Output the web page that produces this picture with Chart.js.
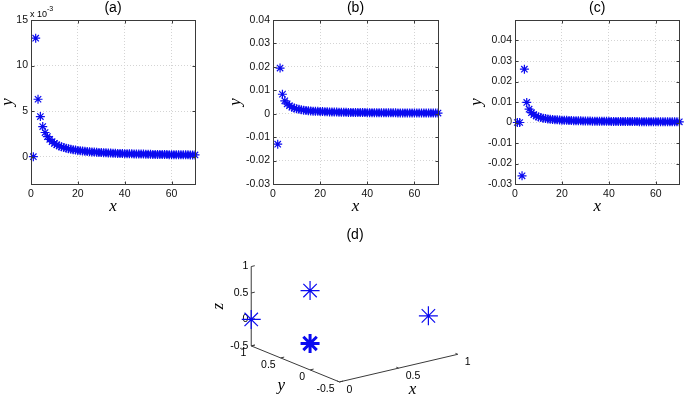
<!DOCTYPE html>
<html>
<head>
<meta charset="utf-8">
<script src="https://cdn.jsdelivr.net/npm/chart.js@4.4.1/dist/chart.umd.min.js"></script>
<style>
  html, body { margin: 0; padding: 0; background: #fff; }
  #wrap { position: relative; width: 685px; height: 405px; overflow: hidden; }
  canvas { position: absolute; }
</style>
</head>
<body>
<div id="wrap">
  <canvas id="ca" width="228" height="222" style="left:0;top:0"></canvas>
  <canvas id="cb" width="228" height="222" style="left:228px;top:0"></canvas>
  <canvas id="cc" width="229" height="222" style="left:456px;top:0"></canvas>
  <canvas id="cd" width="310" height="183" style="left:190px;top:222px"></canvas>
</div>
<script>
/* ── Datos ── */
const X_IDX = [
  1, 2, 3, 4, 5, 6, 7, 8, 9, 10, 11, 12, 13, 14, 15, 16, 17, 18, 19, 20,
  21, 22, 23, 24, 25, 26, 27, 28, 29, 30, 31, 32, 33, 34, 35, 36, 37, 38, 39, 40,
  41, 42, 43, 44, 45, 46, 47, 48, 49, 50, 51, 52, 53, 54, 55, 56, 57, 58, 59, 60,
  61, 62, 63, 64, 65, 66, 67, 68, 69, 70
];

// (a) en unidades de 1e-3
const Y_A = [
  0, 13.0, 6.3, 4.4, 3.3, 2.65, 2.2, 1.9, 1.65, 1.45,
  1.3, 1.18, 1.08, 1.0, 0.93, 0.87, 0.81, 0.76, 0.72, 0.68,
  0.65, 0.62, 0.59, 0.56, 0.54, 0.52, 0.5, 0.48, 0.46, 0.45,
  0.43, 0.42, 0.41, 0.39, 0.38, 0.37, 0.36, 0.35, 0.34, 0.33,
  0.32, 0.32, 0.31, 0.3, 0.29, 0.29, 0.28, 0.28, 0.27, 0.27,
  0.26, 0.25, 0.25, 0.25, 0.24, 0.24, 0.23, 0.23, 0.22, 0.22,
  0.22, 0.21, 0.21, 0.21, 0.2, 0.2, 0.2, 0.19, 0.19, 0.19
];

const Y_B = [
  null, -0.013, 0.0195, 0.0083, 0.0055, 0.0042, 0.0034, 0.0028, 0.0024, 0.0021,
  0.0019, 0.0017, 0.0015, 0.0014, 0.0013, 0.0012, 0.0011, 0.00105, 0.001, 0.00095,
  0.0009, 0.00085, 0.0008, 0.00077, 0.00074, 0.00071, 0.00068, 0.00065, 0.00063, 0.00061,
  0.00059, 0.00057, 0.00055, 0.00054, 0.00052, 0.00051, 0.0005, 0.00048, 0.00047, 0.00046,
  0.00045, 0.00044, 0.00043, 0.00042, 0.00041, 0.0004, 0.00039, 0.00039, 0.00038, 0.00037,
  0.00036, 0.00036, 0.00035, 0.00035, 0.00034, 0.00033, 0.00033, 0.00032, 0.00032, 0.00031,
  0.00031, 0.0003, 0.0003, 0.0003, 0.00029, 0.00029, 0.00028, 0.00028, 0.00028, 0.00027
];

const Y_C = [
  0, 0, -0.026, 0.026, 0.0098, 0.0065, 0.0048, 0.0038, 0.0032, 0.0027,
  0.0024, 0.0021, 0.0019, 0.0017, 0.0016, 0.0015, 0.0014, 0.0013, 0.0012, 0.00115,
  0.0011, 0.00104, 0.001, 0.00095, 0.0009, 0.00087, 0.00083, 0.0008, 0.00077, 0.00074,
  0.00072, 0.0007, 0.00067, 0.00065, 0.00063, 0.00062, 0.0006, 0.00058, 0.00057, 0.00055,
  0.00054, 0.00053, 0.00052, 0.0005, 0.00049, 0.00048, 0.00047, 0.00046, 0.00046, 0.00045,
  0.00044, 0.00043, 0.00042, 0.00042, 0.00041, 0.0004, 0.0004, 0.00039, 0.00038, 0.00038,
  0.00037, 0.00037, 0.00036, 0.00036, 0.00035, 0.00035, 0.00034, 0.00034, 0.00033, 0.00033
];

const TICKS_X  = [0, 20, 40, 60];
const TICKS_YA = [0, 5, 10, 15];
const TICKS_YB = [-0.03, -0.02, -0.01, 0, 0.01, 0.02, 0.03, 0.04];
const TICKS_YC = [-0.03, -0.02, -0.01, 0, 0.01, 0.02, 0.03, 0.04];

// (d) puntos 3D: origen + vértices
const D_X = [0, 1, 0, 0];
const D_Y = [0, 0, 1, 0];
const D_Z = [0, 0, 0, 1];
const D_TICKS_X = [0, 0.5, 1];
const D_TICKS_Y = [-0.5, 0, 0.5, 1];
const D_TICKS_Z = [-0.5, 0, 0.5, 1];

/* ── Estilo ── */
const BLUE = "#0a0af0";
const AXIS = "#3a3a3a";
const SANS = '"Liberation Sans", Arial, sans-serif';
const SERIF = '"Liberation Serif", "Times New Roman", serif';

/* ── Decoración estilo MATLAB: caja, ticks internos, títulos ── */
const decor = {
  id: "decor",
  afterDraw(chart, args, o) {
    const { ctx, chartArea: a, scales } = chart;
    const L = Math.round(a.left) + 0.5, R = Math.round(a.right) + 0.5;
    const T = Math.round(a.top) + 0.5, B = Math.round(a.bottom) + 0.5;
    ctx.save();
    ctx.strokeStyle = AXIS;
    ctx.lineWidth = 1;
    ctx.strokeRect(L, T, R - L, B - T);

    // ticks hacia dentro
    ctx.beginPath();
    scales.x.ticks.forEach(t => {
      const px = Math.round(scales.x.getPixelForValue(t.value)) + 0.5;
      ctx.moveTo(px, B); ctx.lineTo(px, B - 3);
      ctx.moveTo(px, T); ctx.lineTo(px, T + 3);
    });
    scales.y.ticks.forEach(t => {
      const py = Math.round(scales.y.getPixelForValue(t.value)) + 0.5;
      ctx.moveTo(L, py); ctx.lineTo(L + 3, py);
      ctx.moveTo(R, py); ctx.lineTo(R - 3, py);
    });
    ctx.stroke();

    const cx = (a.left + a.right) / 2;
    ctx.fillStyle = "#000";
    ctx.textAlign = "center";
    ctx.textBaseline = "middle";
    ctx.font = "14px " + SANS;
    ctx.fillText(o.title, cx, 8);

    ctx.font = "italic 17px " + SERIF;
    ctx.textBaseline = "alphabetic";
    ctx.fillText("x", cx, 211);

    ctx.save();
    ctx.translate(a.left - o.yGap, (a.top + a.bottom) / 2);
    ctx.rotate(-Math.PI / 2);
    ctx.fillText("y", 0, 0);
    ctx.restore();

    if (o.exp) {
      ctx.textAlign = "left";
      ctx.font = "9px " + SANS;
      ctx.fillText("x 10", a.left - 1, 17);
      const w = ctx.measureText("x 10").width;
      ctx.font = "7px " + SANS;
      ctx.fillText(o.exp, a.left - 1 + w, 11);
    }
    ctx.restore();
  }
};

function panel(id, ys, yMin, yMax, yTicks, fmt, padR, deco) {
  const pts = [];
  X_IDX.forEach((x, i) => { if (ys[i] !== null) pts.push({ x, y: ys[i] }); });
  return new Chart(document.getElementById(id), {
    type: "scatter",
    data: {
      datasets: [{
        data: pts,
        pointStyle: "star",
        pointRadius: 4.5,
        pointBorderColor: BLUE,
        pointBackgroundColor: BLUE,
        pointBorderWidth: 1.2,
        clip: false,
      }],
    },
    options: {
      responsive: false,
      animation: false,
      events: [],
      layout: { padding: { top: 20, right: padR, left: 0, bottom: 0 } },
      plugins: { legend: { display: false }, tooltip: { enabled: false }, decor: deco },
      scales: {
        x: {
          type: "linear", min: 0, max: 70,
          afterBuildTicks: s => { s.ticks = TICKS_X.map(v => ({ value: v })); },
          afterFit: s => { s.height = 38; },
          grid: { color: "#d4d4d4", drawTicks: false },
          border: { display: false, dash: [1, 2] },
          ticks: { color: "#111", padding: 4, maxRotation: 0, font: { family: SANS, size: 10.5 } },
        },
        y: {
          type: "linear", min: yMin, max: yMax,
          afterBuildTicks: s => { s.ticks = yTicks.map(v => ({ value: v })); },
          afterFit: s => { s.width = deco.left; },
          grid: { color: "#d4d4d4", drawTicks: false },
          border: { display: false, dash: [1, 2] },
          ticks: { color: "#111", padding: 3, callback: fmt, font: { family: SANS, size: 10.5 } },
        },
      },
    },
    plugins: [decor],
  });
}

const fmt2 = v => (v === 0 ? "0" : v.toFixed(2));

panel("ca", Y_A, -3, 15, TICKS_YA, v => String(v), 33, { title: "(a)", yGap: 19, left: 31, exp: "-3" });
panel("cb", Y_B, -0.03, 0.04, TICKS_YB, fmt2, 18, { title: "(b)", yGap: 33, left: 45 });
panel("cc", Y_C, -0.03, 0.05, TICKS_YC, fmt2, 5, { title: "(c)", yGap: 34, left: 59 });

/* ── (d) proyección 3D ── */
const EX = [1, 0.2486];
const EY = [-0.4973, 0.216];
const EZ = [0, 0.4763];
const PPU = 128.7;              // px por unidad de proyección
const ORIGIN_PX = [117, 126.2]; // (0,0,0) dentro del canvas

function proj(x, y, z) {
  return { x: x * EX[0] + y * EY[0] + z * EZ[0], y: x * EX[1] + y * EY[1] + z * EZ[1] };
}

const axes3d = {
  id: "axes3d",
  beforeDatasetsDraw(chart) {
    const { ctx, scales: { x: su, y: sv } } = chart;
    const P = (x, y, z) => {
      const p = proj(x, y, z);
      return [su.getPixelForValue(p.x), sv.getPixelForValue(p.y)];
    };
    const x0 = D_TICKS_X[0], x1 = D_TICKS_X[D_TICKS_X.length - 1];
    const y0 = D_TICKS_Y[0], y1 = D_TICKS_Y[D_TICKS_Y.length - 1];
    const z0 = D_TICKS_Z[0], z1 = D_TICKS_Z[D_TICKS_Z.length - 1];
    const seg = (p, q) => { ctx.moveTo(p[0], p[1]); ctx.lineTo(q[0], q[1]); };

    ctx.save();
    ctx.strokeStyle = AXIS;
    ctx.lineWidth = 1;
    ctx.beginPath();
    seg(P(x0, y0, z0), P(x1, y0, z0));
    seg(P(x0, y0, z0), P(x0, y1, z0));
    seg(P(x0, y1, z0), P(x0, y1, z1));
    // ticks
    D_TICKS_X.forEach(v => seg(P(v, y0, z0), P(v, y0 + 0.04, z0)));
    D_TICKS_Y.forEach(v => seg(P(x0, v, z0), P(x0 + 0.03, v, z0)));
    D_TICKS_Z.forEach(v => seg(P(x0, y1, v), P(x0 + 0.03, y1, v)));
    ctx.stroke();

    ctx.fillStyle = "#000";
    ctx.font = "10.5px " + SANS;
    ctx.textBaseline = "middle";
    ctx.textAlign = "left";
    D_TICKS_X.forEach(v => { const p = P(v, y0, z0); ctx.fillText(String(v), p[0] + 7, p[1] + 8); });
    ctx.textAlign = "right";
    D_TICKS_Y.forEach(v => { const p = P(x0, v, z0); ctx.fillText(String(v), p[0] - 5, p[1] + 7); });
    D_TICKS_Z.forEach(v => { const p = P(x0, y1, v); ctx.fillText(String(v), p[0] - 3, p[1]); });

    ctx.textAlign = "center";
    ctx.font = "14px " + SANS;
    ctx.fillText("(d)", 165, 13);

    ctx.font = "italic 17px " + SERIF;
    let p = P((x0 + x1) / 2, y0, z0);
    ctx.fillText("x", p[0] + 14, p[1] + 21);
    p = P(x0, (y0 + y1) / 2, z0);
    ctx.fillText("y", p[0] - 14, p[1] + 22);
    p = P(x0, y1, (z0 + z1) / 2);
    ctx.save();
    ctx.translate(p[0] - 33, p[1]);
    ctx.rotate(-Math.PI / 2);
    ctx.fillText("z", 0, 0);
    ctx.restore();
    ctx.restore();
  }
};

const cd = document.getElementById("cd");
const d3 = D_X.map((x, i) => proj(x, D_Y[i], D_Z[i]));
new Chart(cd, {
  type: "scatter",
  data: {
    datasets: [{
      data: d3,
      pointStyle: "star",
      pointRadius: 9.5,
      pointBorderWidth: ctx => (ctx.dataIndex === 0 ? 3 : 1.2),
      pointBorderColor: BLUE,
      pointBackgroundColor: BLUE,
      clip: false,
    }],
  },
  options: {
    responsive: false,
    animation: false,
    events: [],
    layout: { padding: 0 },
    plugins: { legend: { display: false }, tooltip: { enabled: false } },
    scales: {
      x: { type: "linear", display: false,
           min: -ORIGIN_PX[0] / PPU, max: (cd.width - ORIGIN_PX[0]) / PPU },
      y: { type: "linear", display: false,
           min: -(cd.height - ORIGIN_PX[1]) / PPU, max: ORIGIN_PX[1] / PPU },
    },
  },
  plugins: [axes3d],
});
</script>
</body>
</html>
